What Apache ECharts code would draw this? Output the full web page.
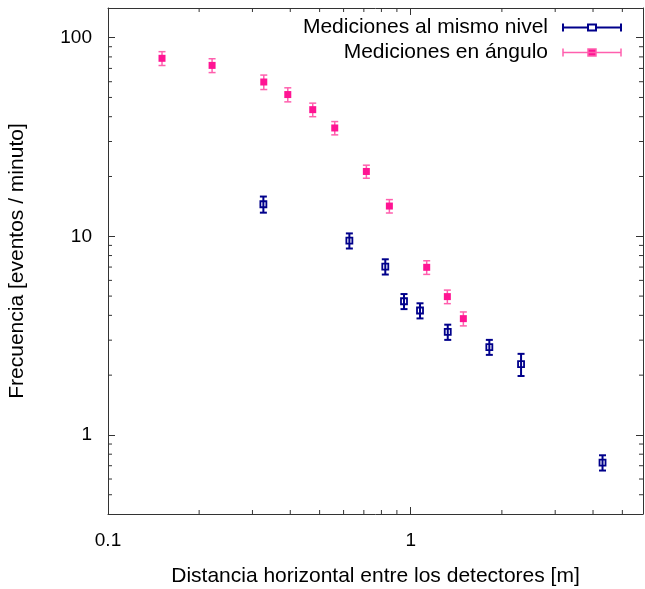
<!DOCTYPE html>
<html>
<head>
<meta charset="utf-8">
<script src="https://cdn.jsdelivr.net/npm/echarts@6/dist/echarts.min.js"></script>
<style>
html,body{margin:0;padding:0;background:#fff;}
#chart{width:645px;height:589px;}
</style>
</head>
<body>
<div id="chart"></div>
<script>
// ---- data ----
const seriesNames = ['Mediciones al mismo nivel', 'Mediciones en ángulo'];

const nivelX   = [0.326, 0.627, 0.824, 0.950, 1.073, 1.325, 1.818, 2.314, 4.30];
const nivelY   = [14.5, 9.51, 7.04, 4.71, 4.23, 3.30, 2.77, 2.27, 0.726];
const nivelErr = [1.35, 0.83, 0.62, 0.41, 0.37, 0.29, 0.24, 0.29, 0.064];

const anguloX   = [0.1508, 0.2207, 0.327, 0.3925, 0.4745, 0.561, 0.7135, 0.850, 1.129, 1.321, 1.492];
const anguloY   = [78.7, 72.5, 59.8, 51.7, 43.4, 35.1, 21.2, 14.2, 6.98, 4.97, 3.85];
const anguloErr = [6.3, 5.8, 5.0, 4.2, 3.4, 2.7, 1.6, 1.1, 0.55, 0.39, 0.31];

const xMinorTicks = [0.2, 0.3, 0.4, 0.5, 0.6, 0.7, 0.8, 0.9, 2, 3, 4, 5];
const yMinorTicks = [0.5, 0.6, 0.7, 0.8, 0.9, 2, 3, 4, 5, 6, 7, 8, 9, 20, 30, 40, 50, 60, 70, 80, 90];

const xTitle = 'Distancia horizontal entre los detectores [m]';
const yTitle = 'Frecuencia [eventos / minuto]';

// ---- style ----
const BLUE = '#00008b';
const PINK = '#ff1493';
const PINK_BAR = '#ff5fae';
const AXIS = '#333';
const FONT = 'Liberation Sans';
const FS = 21;
const FS_TICK = 19;

const X_MIN = 0.1, X_MAX = 5.85, Y_MIN = 0.4, Y_MAX = 141;

const chart = echarts.init(document.getElementById('chart'), null, {renderer: 'canvas'});

function errRender(color, lw) {
  return function (params, api) {
    const x = api.value(0), y = api.value(1), e = api.value(2);
    const top = api.coord([x, y + e]);
    const bot = api.coord([x, y - e]);
    const hw = 3.5;
    const st = {stroke: color, lineWidth: lw};
    return {
      type: 'group',
      children: [
        {type: 'line', shape: {x1: top[0], y1: top[1], x2: bot[0], y2: bot[1]}, style: st},
        {type: 'line', shape: {x1: top[0] - hw, y1: top[1], x2: top[0] + hw, y2: top[1]}, style: st},
        {type: 'line', shape: {x1: bot[0] - hw, y1: bot[1], x2: bot[0] + hw, y2: bot[1]}, style: st}
      ]
    };
  };
}

function xTickRender(params, api) {
  const cs = params.coordSys;
  const p = api.coord([api.value(0), 1]);
  const st = {stroke: AXIS, lineWidth: 1};
  const L = 4;
  return {type: 'group', children: [
    {type: 'line', shape: {x1: p[0], y1: cs.y + cs.height, x2: p[0], y2: cs.y + cs.height - L}, style: st},
    {type: 'line', shape: {x1: p[0], y1: cs.y, x2: p[0], y2: cs.y + L}, style: st}
  ]};
}
function yTickRender(params, api) {
  const cs = params.coordSys;
  const p = api.coord([1, api.value(1)]);
  const st = {stroke: AXIS, lineWidth: 1};
  const L = 4;
  return {type: 'group', children: [
    {type: 'line', shape: {x1: cs.x, y1: p[1], x2: cs.x + L, y2: p[1]}, style: st},
    {type: 'line', shape: {x1: cs.x + cs.width, y1: p[1], x2: cs.x + cs.width - L, y2: p[1]}, style: st}
  ]};
}

const baseAxis = {
  type: 'log', logBase: 10,
  axisLine: {show: true, onZero: false, lineStyle: {color: AXIS, width: 1}},
  axisTick: {show: true, inside: true, length: 7, lineStyle: {color: AXIS}},
  splitLine: {show: false},
  minorTick: {show: false}
};

const option = {
  animation: false,
  backgroundColor: '#fff',
  textStyle: {fontFamily: FONT},
  grid: {left: 108, right: 2, top: 8, bottom: 75, containLabel: false, outerBoundsMode: 'none'},
  legend: {
    orient: 'vertical',
    right: 18, top: 12,
    align: 'right',
    itemGap: 4,
    itemWidth: 58, itemHeight: 8,
    textStyle: {fontFamily: FONT, fontSize: FS, color: '#000', padding: [0, 10, 0, 0]},
    selectedMode: false,
    data: [
      {name: seriesNames[0],
       icon: 'path://M0 4 L25 4 M33 4 L58 4 M0 0 L0 8 M58 0 L58 8 M25 1 L33 1 L33 7 L25 7 Z',
       itemStyle: {color: 'rgba(0,0,0,0)', borderColor: BLUE, borderWidth: 2}},
      {name: seriesNames[1],
       icon: 'path://M0 4 L58 4 M0 0 L0 8 M58 0 L58 8 M25 0.5 L33 0.5 L33 7.5 L25 7.5 Z',
       itemStyle: {color: PINK, borderColor: PINK_BAR, borderWidth: 1.5}}
    ]
  },
  xAxis: [
    Object.assign({}, baseAxis, {
      position: 'bottom', min: X_MIN, max: X_MAX,
      name: xTitle, nameLocation: 'middle', nameGap: 52,
      nameTextStyle: {fontFamily: FONT, fontSize: FS, color: '#000'},
      axisLabel: {fontFamily: FONT, fontSize: FS_TICK, color: '#000', margin: 17, showMinLabel: true, showMaxLabel: false}
    }),
    Object.assign({}, baseAxis, {
      position: 'top', min: X_MIN, max: X_MAX,
      axisLabel: {show: false}
    })
  ],
  yAxis: [
    Object.assign({}, baseAxis, {
      position: 'left', min: Y_MIN, max: Y_MAX,
      name: yTitle, nameLocation: 'middle', nameGap: 80, nameRotate: 90,
      nameTextStyle: {fontFamily: FONT, fontSize: FS, color: '#000'},
      axisLabel: {fontFamily: FONT, fontSize: FS_TICK, color: '#000', margin: 16, showMinLabel: false, showMaxLabel: false}
    }),
    Object.assign({}, baseAxis, {
      position: 'right', min: Y_MIN, max: Y_MAX,
      axisLabel: {show: false}
    })
  ],
  series: [
    {
      name: 'xminor', type: 'custom', xAxisIndex: 0, yAxisIndex: 0, silent: true,
      renderItem: xTickRender, data: xMinorTicks.map(v => [v, 1]), z: 1
    },
    {
      name: 'yminor', type: 'custom', xAxisIndex: 0, yAxisIndex: 0, silent: true,
      renderItem: yTickRender, data: yMinorTicks.map(v => [1, v]), z: 1
    },
    {
      name: seriesNames[0] + ' err', type: 'custom', xAxisIndex: 0, yAxisIndex: 0, silent: true,
      renderItem: errRender(BLUE, 2),
      data: nivelX.map((x, i) => [x, nivelY[i], nivelErr[i]]), z: 2
    },
    {
      name: seriesNames[1] + ' err', type: 'custom', xAxisIndex: 0, yAxisIndex: 0, silent: true,
      renderItem: errRender(PINK_BAR, 1.5),
      data: anguloX.map((x, i) => [x, anguloY[i], anguloErr[i]]), z: 2
    },
    {
      name: seriesNames[0], type: 'scatter', xAxisIndex: 0, yAxisIndex: 0,
      symbol: 'rect', symbolSize: 6,
      itemStyle: {color: 'rgba(255,255,255,0)', borderColor: BLUE, borderWidth: 1.8, opacity: 1},
      data: nivelX.map((x, i) => [x, nivelY[i]]), z: 3
    },
    {
      name: seriesNames[1], type: 'scatter', xAxisIndex: 0, yAxisIndex: 0,
      symbol: 'rect', symbolSize: 7,
      itemStyle: {color: PINK, opacity: 1},
      data: anguloX.map((x, i) => [x, anguloY[i]]), z: 3
    }
  ]
};

chart.setOption(option);
</script>
</body>
</html>
